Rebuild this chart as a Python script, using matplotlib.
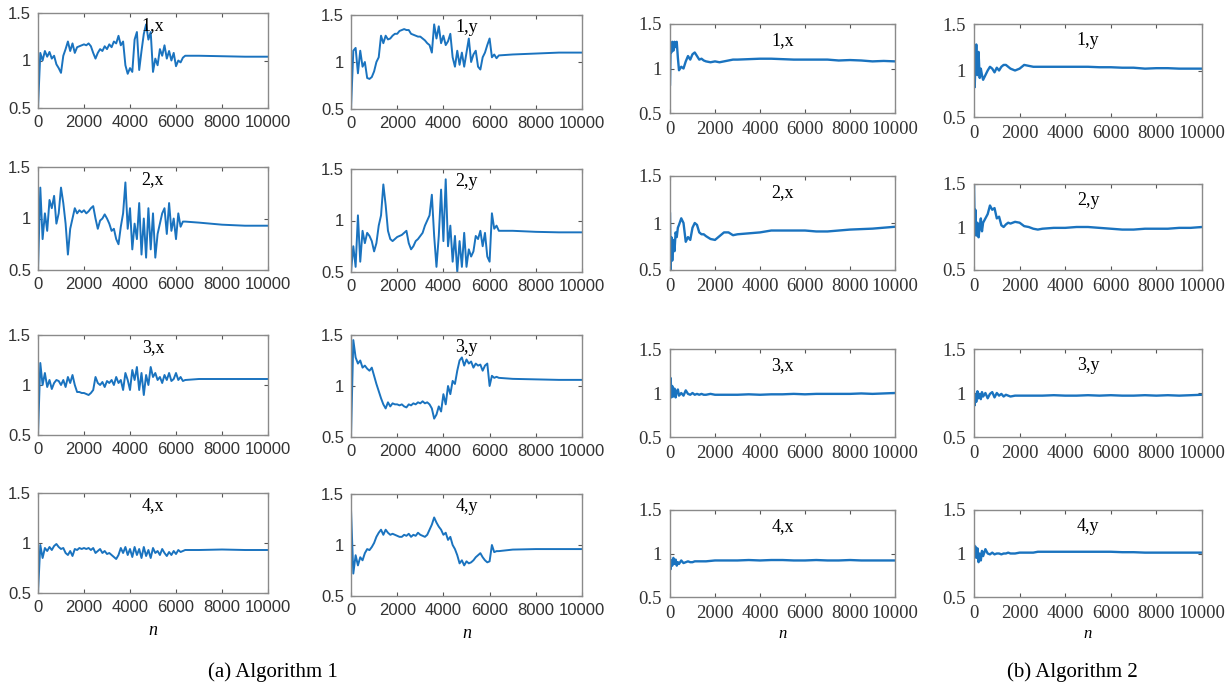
import matplotlib
matplotlib.use('Agg')
import matplotlib.pyplot as plt
import numpy as np

# sample grid for algorithm 1 (noisy phase) and its flat tail
n_a = list(range(0, 6500, 100))
n_a_tail = [7000, 8000, 9000, 10000]

a1x = [0.50, 1.08, 1.00, 1.10, 1.04, 1.09, 1.02, 1.05, 0.96, 0.92,
       0.87, 1.05, 1.12, 1.20, 1.10, 1.18, 1.08, 1.14, 1.15, 1.16,
       1.17, 1.16, 1.18, 1.15, 1.08, 1.02, 1.08, 1.12, 1.10, 1.15,
       1.12, 1.17, 1.14, 1.20, 1.18, 1.26, 1.16, 1.20, 0.95, 0.86,
       0.92, 0.88, 1.22, 1.30, 0.90, 1.10, 1.28, 1.38, 1.22, 1.30,
       0.88, 1.02, 0.95, 1.12, 1.05, 1.16, 1.02, 1.10, 1.00, 1.08,
       0.94, 1.00, 0.98, 1.03, 1.05]
a1x_tail = [1.05, 1.045, 1.04, 1.04]

a1y = [0.50, 1.12, 1.15, 0.88, 1.12, 0.95, 1.00, 0.83, 0.82, 0.84,
       0.90, 1.00, 1.05, 1.28, 1.20, 1.28, 1.24, 1.25, 1.28, 1.30,
       1.30, 1.33, 1.34, 1.35, 1.34, 1.34, 1.30, 1.29, 1.28, 1.27,
       1.27, 1.25, 1.23, 1.20, 1.18, 1.10, 1.40, 1.25, 1.38, 1.20,
       1.28, 1.18, 1.22, 1.30, 1.05, 0.95, 1.12, 0.97, 1.10, 0.95,
       1.10, 1.25, 1.00, 1.08, 1.12, 0.95, 0.92, 1.05, 1.10, 1.18,
       1.25, 1.05, 1.08, 1.04, 1.07]
a1y_tail = [1.08, 1.09, 1.10, 1.10]

a2x = [0.50, 1.30, 0.80, 1.05, 0.88, 1.18, 1.10, 1.22, 0.95, 1.05,
       1.30, 1.15, 0.95, 0.65, 0.90, 1.00, 1.10, 1.05, 1.08, 1.06,
       1.08, 1.05, 1.07, 1.10, 1.12, 1.00, 0.90, 0.98, 1.00, 1.04,
       1.00, 0.95, 0.88, 0.90, 0.80, 0.75, 0.92, 1.05, 1.35, 0.90,
       1.10, 0.70, 0.95, 0.80, 1.15, 0.65, 1.00, 0.62, 1.10, 0.70,
       1.05, 0.62, 0.85, 0.95, 1.05, 1.10, 0.85, 1.15, 0.88, 1.00,
       0.80, 1.05, 0.92, 0.97, 0.97]
a2x_tail = [0.96, 0.94, 0.93, 0.93]

a2y = [0.50, 0.75, 0.55, 1.05, 0.60, 0.90, 0.78, 0.88, 0.85, 0.80,
       0.70, 0.78, 0.95, 1.05, 1.35, 1.15, 0.90, 0.82, 0.80, 0.82,
       0.84, 0.85, 0.86, 0.88, 0.90, 0.78, 0.72, 0.75, 0.80, 0.82,
       0.85, 0.88, 0.95, 1.00, 1.05, 1.25, 0.85, 0.55, 0.85, 1.30,
       0.80, 1.40, 0.75, 0.95, 0.60, 0.85, 0.50, 0.80, 0.55, 0.88,
       0.55, 0.72, 0.65, 0.70, 0.85, 0.82, 0.90, 0.75, 0.88, 0.65,
       0.60, 1.07, 0.92, 0.95, 0.90]
a2y_tail = [0.90, 0.89, 0.885, 0.885]

a3x = [0.50, 1.22, 1.00, 1.12, 0.98, 1.05, 0.96, 1.02, 1.05, 1.04,
       1.00, 1.05, 0.98, 1.08, 1.02, 1.10, 1.00, 0.93, 0.93, 0.92,
       0.92, 0.91, 0.90, 0.92, 0.95, 1.08, 1.02, 1.00, 1.03, 0.98,
       1.04, 1.02, 1.05, 1.00, 1.08, 1.02, 1.05, 0.95, 1.12, 1.05,
       0.95, 1.15, 1.05, 1.18, 0.95, 1.12, 0.90, 1.10, 1.00, 1.18,
       1.08, 1.12, 1.05, 1.08, 1.02, 1.10, 1.05, 1.12, 1.04, 1.06,
       1.12, 1.05, 1.08, 1.04, 1.05]
a3x_tail = [1.06, 1.06, 1.06, 1.06]

a3y = [0.50, 1.45, 1.28, 1.22, 1.25, 1.18, 1.20, 1.17, 1.15, 1.18,
       1.10, 1.02, 0.95, 0.88, 0.82, 0.78, 0.84, 0.80, 0.83, 0.82,
       0.82, 0.81, 0.82, 0.80, 0.79, 0.82, 0.81, 0.83, 0.82, 0.84,
       0.83, 0.85, 0.83, 0.84, 0.82, 0.78, 0.68, 0.72, 0.80, 0.75,
       0.92, 0.82, 1.00, 0.92, 1.05, 1.02, 1.15, 1.25, 1.28, 1.20,
       1.26, 1.22, 1.24, 1.18, 1.22, 1.20, 1.21, 1.15, 1.20, 1.22,
       1.00, 1.10, 1.08, 1.09, 1.08]
a3y_tail = [1.07, 1.065, 1.06, 1.06]

a4x = [0.50, 0.98, 0.85, 0.95, 0.92, 0.96, 0.93, 0.97, 0.99, 0.96,
       0.94, 0.95, 0.90, 0.88, 0.92, 0.87, 0.94, 0.93, 0.95, 0.94,
       0.95, 0.94, 0.95, 0.93, 0.95, 0.90, 0.92, 0.94, 0.90, 0.92,
       0.89, 0.90, 0.88, 0.86, 0.84, 0.88, 0.95, 0.90, 0.96, 0.88,
       0.94, 0.86, 0.96, 0.88, 0.94, 0.85, 0.96, 0.87, 0.93, 0.85,
       0.95, 0.90, 0.92, 0.88, 0.94, 0.90, 0.87, 0.91, 0.88, 0.92,
       0.89, 0.93, 0.91, 0.92, 0.93]
a4x_tail = [0.93, 0.935, 0.93, 0.93]

a4y = [1.35, 0.72, 0.90, 0.80, 0.88, 0.85, 0.92, 0.96, 0.95, 0.98,
       1.02, 1.08, 1.12, 1.15, 1.10, 1.15, 1.12, 1.10, 1.11, 1.10,
       1.09, 1.08, 1.08, 1.10, 1.09, 1.11, 1.08, 1.10, 1.09, 1.12,
       1.10, 1.09, 1.08, 1.10, 1.15, 1.20, 1.27, 1.22, 1.18, 1.15,
       1.10, 1.12, 1.05, 1.08, 1.00, 0.96, 0.90, 0.82, 0.85, 0.80,
       0.84, 0.82, 0.83, 0.85, 0.88, 0.90, 0.92, 0.88, 0.85, 0.83,
       0.84, 1.00, 0.93, 0.94, 0.94]
a4y_tail = [0.955, 0.96, 0.96, 0.96]

# sample grid for algorithm 2 (dense at the start where it oscillates)
n_b = [0, 30, 60, 100, 150, 200, 250, 300, 350, 400, 500, 600, 700, 800,
       900, 1000, 1100, 1200, 1300, 1400, 1500, 1600, 1800, 2000, 2200,
       2400, 2600, 2800, 3000, 3500, 4000, 4500, 5000, 5500, 6000, 6500,
       7000, 7500, 8000, 8500, 9000, 9500, 10000]

b1x = [0.82, 1.28, 1.18, 1.30, 1.20, 1.30, 1.24, 1.30, 1.12, 0.98,
       1.02, 1.00, 1.08, 1.14, 1.10, 1.16, 1.18, 1.14, 1.10, 1.11,
       1.09, 1.08, 1.07, 1.08, 1.07, 1.08, 1.09, 1.10, 1.10, 1.105,
       1.11, 1.11, 1.105, 1.10, 1.10, 1.10, 1.10, 1.09, 1.095, 1.09,
       1.08, 1.085, 1.08]
b1y = [1.10, 0.82, 1.05, 1.28, 0.95, 1.20, 0.92, 1.02, 0.95, 0.90,
       0.95, 1.00, 1.04, 1.02, 0.98, 1.03, 1.00, 1.04, 1.06, 1.06,
       1.04, 1.02, 1.00, 1.02, 1.06, 1.05, 1.04, 1.04, 1.04, 1.04,
       1.04, 1.04, 1.04, 1.035, 1.035, 1.03, 1.03, 1.02, 1.025, 1.025,
       1.02, 1.02, 1.02]
b2x = [1.10, 0.50, 0.85, 0.60, 0.82, 0.70, 0.90, 0.85, 0.95, 0.98,
       1.05, 1.00, 0.80, 0.85, 0.82, 0.95, 1.00, 0.98, 0.90, 0.88,
       0.88, 0.86, 0.83, 0.82, 0.86, 0.90, 0.90, 0.87, 0.88, 0.89,
       0.90, 0.92, 0.92, 0.92, 0.92, 0.91, 0.91, 0.92, 0.93, 0.935,
       0.94, 0.95, 0.96]
b2y = [1.50, 1.00, 1.20, 0.90, 1.05, 0.88, 1.00, 1.10, 0.95, 1.05,
       1.10, 1.15, 1.25, 1.20, 1.22, 1.10, 1.12, 1.02, 1.00, 1.03,
       1.05, 1.04, 1.06, 1.05, 1.01, 1.00, 0.98, 0.97, 0.98, 0.99,
       0.99, 1.00, 1.00, 0.99, 0.98, 0.97, 0.97, 0.98, 0.98, 0.98,
       0.99, 0.99, 1.00]
b3x = [1.00, 1.17, 0.95, 1.08, 0.96, 1.05, 0.95, 1.02, 1.04, 0.97,
       1.00, 0.97, 1.03, 0.99, 0.98, 1.00, 0.98, 0.99, 0.98, 0.99,
       0.98, 0.98, 0.99, 0.98, 0.98, 0.98, 0.98, 0.98, 0.98, 0.985,
       0.98, 0.985, 0.985, 0.99, 0.985, 0.99, 0.99, 0.99, 0.99, 0.995,
       0.99, 0.995, 1.00]
b3y = [1.00, 0.86, 0.98, 0.90, 1.02, 0.94, 0.99, 0.93, 1.01, 0.96,
       1.00, 0.94, 0.99, 1.01, 0.95, 1.00, 0.97, 0.99, 0.96, 0.98,
       0.97, 0.96, 0.97, 0.97, 0.97, 0.97, 0.97, 0.97, 0.97, 0.975,
       0.97, 0.97, 0.975, 0.97, 0.975, 0.97, 0.97, 0.975, 0.97, 0.975,
       0.97, 0.975, 0.98]
b4x = [0.95, 0.82, 0.92, 0.86, 0.95, 0.88, 0.93, 0.86, 0.90, 0.88,
       0.92, 0.89, 0.90, 0.91, 0.90, 0.90, 0.91, 0.91, 0.91, 0.91,
       0.91, 0.91, 0.915, 0.92, 0.92, 0.92, 0.92, 0.92, 0.92, 0.925,
       0.92, 0.925, 0.925, 0.92, 0.92, 0.925, 0.92, 0.92, 0.925, 0.92,
       0.92, 0.92, 0.92]
b4y = [1.10, 0.98, 1.08, 0.95, 1.06, 0.90, 1.00, 0.92, 1.03, 0.97,
       1.05, 1.00, 0.99, 1.01, 0.99, 1.00, 1.00, 0.99, 1.00, 1.00,
       1.01, 1.00, 1.00, 1.01, 1.01, 1.01, 1.01, 1.02, 1.02, 1.02,
       1.02, 1.02, 1.02, 1.02, 1.02, 1.015, 1.015, 1.01, 1.01, 1.01,
       1.01, 1.01, 1.01]

alg1_series = [[(a1x, a1x_tail), (a1y, a1y_tail)],
               [(a2x, a2x_tail), (a2y, a2y_tail)],
               [(a3x, a3x_tail), (a3y, a3y_tail)],
               [(a4x, a4x_tail), (a4y, a4y_tail)]]
alg2_series = [[b1x, b1y], [b2x, b2y], [b3x, b3y], [b4x, b4y]]
panel_titles = [['1,x', '1,y'], ['2,x', '2,y'], ['3,x', '3,y'], ['4,x', '4,y']]

xticks = [0, 2000, 4000, 6000, 8000, 10000]
yticks = [0.5, 1, 1.5]
ytick_labels = ['0.5', '1', '1.5']

W, H = 1232, 692
fig = plt.figure(figsize=(W / 100, H / 100), dpi=100)

# axes boxes in pixels: (left, right) per column, (top, bottom) per row
col_x = [(38, 268), (351, 582), (670, 895), (974, 1202)]
row_y = [
    [(13, 108), (167, 270), (335, 435), (493, 593)],
    [(15, 109), (169, 272), (335, 437), (494, 596)],
    [(24, 113), (176, 270), (349, 437), (510, 597)],
    [(24, 117), (184, 270), (349, 437), (510, 597)],
]

line_color = '#1a73bf'
serif = 'Liberation Serif'
right_axes = []


def make_axes(c, r):
    x0, x1 = col_x[c]
    t, b = row_y[c][r]
    return fig.add_axes([x0 / W, 1 - b / H, (x1 - x0) / W, (b - t) / H])


def style_axes(ax, right_side):
    pad = 6 if right_side else 5
    ax.set_xlim(0, 10000)
    ax.set_ylim(0.5, 1.5)
    ax.set_xticks(xticks)
    ax.set_xticklabels([str(v) for v in xticks])
    ax.set_yticks(yticks)
    ax.set_yticklabels(ytick_labels)
    for s in ax.spines.values():
        s.set_color('#8a8a8a')
        s.set_linewidth(1.0)
    ax.tick_params(direction='in', length=3, width=0.8, color='#555555',
                   top=True, right=True, labelcolor='#333333', pad=pad,
                   labelsize=12)


for r in range(4):
    for c in range(2):
        ys, tail = alg1_series[r][c]
        ax = make_axes(c, r)
        ax.plot(n_a + n_a_tail, ys + tail, color=line_color, lw=1.4)
        style_axes(ax, False)
        ax.annotate(panel_titles[r][c], xy=(0.5, 1), xycoords='axes fraction',
                    xytext=(0, -3), textcoords='offset points', ha='center',
                    va='top', family=serif, size=13)
        if r == 3:
            ax.set_xlabel('n', family=serif, style='italic', size=13, labelpad=5)

for r in range(4):
    for c in range(2):
        ax = make_axes(c + 2, r)
        ax.plot(n_b, alg2_series[r][c], color=line_color, lw=1.7)
        style_axes(ax, True)
        ax.annotate(panel_titles[r][c], xy=(0.5, 1), xycoords='axes fraction',
                    xytext=(0, -6), textcoords='offset points', ha='center',
                    va='top', family=serif, size=13)
        if r == 3:
            ax.set_xlabel('n', family=serif, style='italic', size=12, labelpad=3)
        right_axes.append(ax)

fig.text(273 / W, 1 - 672 / H, '(a) Algorithm 1', ha='center', va='center',
         family=serif, size=15)
fig.text(1072 / W, 1 - 672 / H, '(b) Algorithm 2', ha='center', va='center',
         family=serif, size=15)

# left panels use Arial-like labels, right panels Times-like ones
fig.canvas.draw()
for ax in fig.axes:
    fam = serif if ax in right_axes else 'Liberation Sans'
    size = 13.5 if ax in right_axes else 12
    for lbl in ax.get_xticklabels() + ax.get_yticklabels():
        lbl.set_fontfamily(fam)
        lbl.set_fontsize(size)

fig.savefig('out.png', dpi=100)
